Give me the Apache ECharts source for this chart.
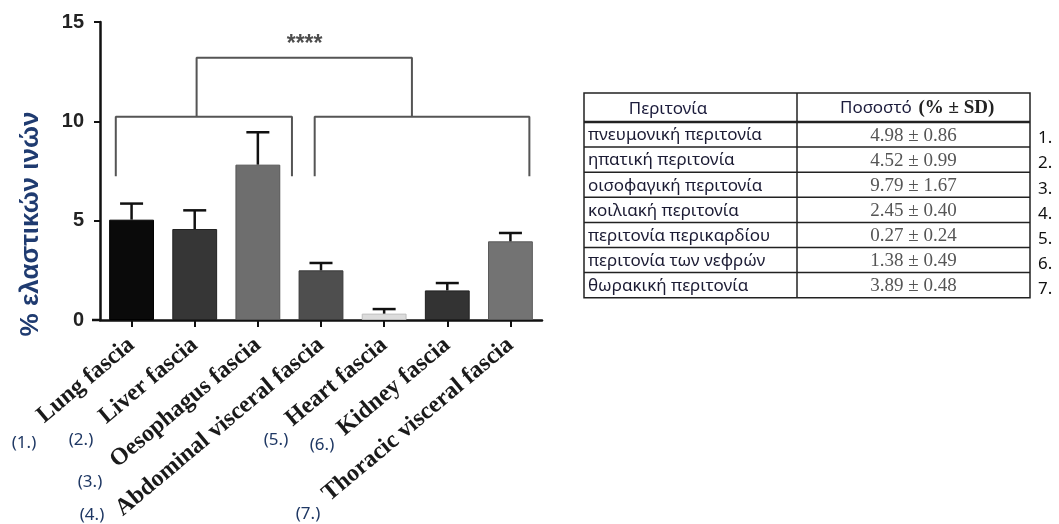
<!DOCTYPE html>
<html>
<head>
<meta charset="utf-8">
<script src="https://cdn.jsdelivr.net/npm/echarts@6/dist/echarts.min.js"></script>
<style>
html,body{margin:0;padding:0;background:#ffffff;}
#chart{width:1059px;height:524px;}
</style>
</head>
<body>
<div id="chart"></div>
<script>
// ---------- data ----------
const categories = ['Lung fascia', 'Liver fascia', 'Oesophagus fascia', 'Abdominal visceral fascia', 'Heart fascia', 'Kidney fascia', 'Thoracic visceral fascia'];
const barMeans = [5.05, 4.58, 7.82, 2.50, 0.32, 1.49, 3.96];
const barErrorTops = [5.86, 5.52, 9.45, 2.87, 0.55, 1.86, 4.38];
const yTickValues = [0, 5, 10, 15];
const yAxisTitle = '% ελαστικών ινών';
const groupMarks = ['(1.)', '(2.)', '(3.)', '(4.)', '(5.)', '(6.)', '(7.)'];
// brackets in data coordinates: [from category, to category, bar level, drop level]
const bracketFrom = [-0.25, 2.90, 1.03];
const bracketTo = [2.54, 6.30, 4.44];
const bracketLevel = [10.23, 10.23, 13.20];
const bracketDrop = [7.24, 7.24, 10.23];
const significanceLabel = '****';
const significancePos = [2.74, 13.85];
// table
const tableHeader = ['Περιτονία', 'Ποσοστό', '(% ± SD)'];
const tableNames = ['πνευμονική περιτονία', 'ηπατική περιτονία', 'οισοφαγική περιτονία', 'κοιλιακή περιτονία', 'περιτονία περικαρδίου', 'περιτονία των νεφρών', 'θωρακική περιτονία'];
const tableMeans = ['4.98', '4.52', '9.79', '2.45', '0.27', '1.38', '3.89'];
const tableSDs = ['0.86', '0.99', '1.67', '0.40', '0.24', '0.49', '0.48'];
const tableNumbers = ['1.', '2.', '3.', '4.', '5.', '6.', '7.'];

// ---------- styles / layout ----------
const barFill = ['#0a0a0a', '#363636', '#6e6e6e', '#4e4e4e', '#dcdcdc', '#333333', '#737373'];
const barEdge = ['#000000', '#222222', '#555555', '#3a3a3a', '#bdbdbd', '#202020', '#5a5a5a'];
const grid = {left: 100, right: 517, top: 22, bottom: 204};
const markPos = [[24, 443], [81, 440], [90, 482], [92, 515], [276, 440], [322, 445], [308, 514]];
const T = {x0: 584, x1: 797, x2: 1030, y0: 93, headH: 29, rowH: 25.1, numX: 1038};

const chart = echarts.init(document.getElementById('chart'), null, {renderer: 'canvas'});

const graphics = [];
graphics.push({type: 'line', shape: {x1: 92, y1: 524 - grid.bottom, x2: grid.left, y2: 524 - grid.bottom}, style: {stroke: '#111', lineWidth: 2.5}});
graphics.push({type: 'text', x: 31, y: 224, rotation: Math.PI / 2,
  style: {text: yAxisTitle, font: 'bold 26px "Liberation Sans", Arial, sans-serif', fill: '#1f3b70', align: 'center', verticalAlign: 'middle'}});
groupMarks.forEach((t, i) => {
  graphics.push({type: 'text', x: markPos[i][0], y: markPos[i][1],
    style: {text: t, font: '17px "Noto Sans", sans-serif', fill: '#1f3864', align: 'center', verticalAlign: 'middle'}});
});
const nRows = tableNames.length;
const tH = T.headH + nRows * T.rowH;
graphics.push({type: 'rect', shape: {x: T.x0, y: T.y0, width: T.x2 - T.x0, height: tH}, style: {fill: 'none', stroke: '#222', lineWidth: 1.5}});
graphics.push({type: 'line', shape: {x1: T.x1, y1: T.y0, x2: T.x1, y2: T.y0 + tH}, style: {stroke: '#222', lineWidth: 1.5}});
graphics.push({type: 'line', shape: {x1: T.x0, y1: T.y0 + T.headH, x2: T.x2, y2: T.y0 + T.headH}, style: {stroke: '#222', lineWidth: 2.5}});
for (let k = 1; k < nRows; k++) {
  const y = T.y0 + T.headH + k * T.rowH;
  graphics.push({type: 'line', shape: {x1: T.x0, y1: y, x2: T.x2, y2: y}, style: {stroke: '#222', lineWidth: 1.5}});
}
graphics.push({type: 'text', x: 668, y: T.y0 + T.headH / 2 + 2,
  style: {text: tableHeader[0], font: '17px "Noto Sans", sans-serif', fill: '#1c1c3c', align: 'center', verticalAlign: 'middle'}});
graphics.push({type: 'text', x: 840, y: T.y0 + T.headH / 2 + 1,
  style: {text: '{a|' + tableHeader[1] + '}  {b|' + tableHeader[2] + '}', verticalAlign: 'middle', align: 'left',
    rich: {a: {font: '17px "Noto Sans", sans-serif', fill: '#1c1c3c', color: '#1c1c3c'},
           b: {font: 'bold 19px "Liberation Serif", "Times New Roman", serif', fill: '#222', color: '#222'}}}});
for (let r = 0; r < nRows; r++) {
  const cy = T.y0 + T.headH + r * T.rowH + T.rowH / 2 + 1;
  graphics.push({type: 'text', x: T.x0 + 4, y: cy,
    style: {text: tableNames[r], font: '17px "Noto Sans", sans-serif', fill: '#1b1b33', align: 'left', verticalAlign: 'middle'}});
  graphics.push({type: 'text', x: (T.x1 + T.x2) / 2, y: cy,
    style: {text: tableMeans[r] + ' ± ' + tableSDs[r], font: '19px "Liberation Serif", "Times New Roman", serif', fill: '#555', align: 'center', verticalAlign: 'middle'}});
  graphics.push({type: 'text', x: T.numX, y: cy + 3,
    style: {text: tableNumbers[r], font: '17px "Noto Sans", sans-serif', fill: '#111', align: 'left', verticalAlign: 'middle'}});
}

const bracketSeries = bracketFrom.map((f, i) => ({
  type: 'line', xAxisIndex: 1, yAxisIndex: 0, symbol: 'none', silent: true, animation: false,
  lineStyle: {color: '#555', width: 2},
  data: [[f, bracketDrop[i]], [f, bracketLevel[i]], [bracketTo[i], bracketLevel[i]], [bracketTo[i], bracketDrop[i]]]
}));

const option = {
  animation: false,
  backgroundColor: '#ffffff',
  grid: grid,
  xAxis: [{
    type: 'category', data: categories, position: 'bottom',
    axisLine: {show: true, onZero: false, lineStyle: {color: '#111', width: 2.5}},
    axisTick: {show: true, alignWithLabel: true, length: 7, lineStyle: {color: '#111', width: 2}},
    axisLabel: {interval: 0, rotate: 40, margin: 22, color: '#1a1a1a',
      fontFamily: '"Liberation Serif", "Times New Roman", serif', fontWeight: 'bold', fontSize: 24},
    splitLine: {show: false}
  }, {
    type: 'value', min: -0.5, max: 6.5, show: false, gridIndex: 0, position: 'top',
    axisLine: {onZero: false}
  }],
  yAxis: [{
    type: 'value', min: 0, max: 15, interval: 5, position: 'left',
    axisLine: {show: true, onZero: false, lineStyle: {color: '#111', width: 2.5}},
    axisTick: {show: true, length: 6, lineStyle: {color: '#111', width: 2}},
    axisLabel: {margin: 16, color: '#222', fontFamily: '"Liberation Sans", Arial, sans-serif', fontWeight: 'bold', fontSize: 20,
      formatter: v => yTickValues.indexOf(v) >= 0 ? String(v) : ''},
    splitLine: {show: false}
  }],
  graphic: graphics,
  series: [{
    type: 'bar', barWidth: '71%', xAxisIndex: 0, yAxisIndex: 0,
    data: barMeans.map((v, i) => ({value: v, itemStyle: {color: barFill[i], borderColor: barEdge[i], borderWidth: 1}}))
  }, {
    type: 'custom', xAxisIndex: 0, yAxisIndex: 0, silent: true, z: 3,
    dimensions: ['cat', 'mean', 'top'],
    encode: {x: 'cat', y: ['mean', 'top']},
    data: categories.map((c, i) => [c, barMeans[i], barErrorTops[i]]),
    renderItem: function (params, api) {
      const xi = params.dataIndex;
      const p0 = api.coord([xi, api.value('mean')]);
      const p1 = api.coord([xi, api.value('top')]);
      const s = {stroke: '#111', lineWidth: 2.5};
      return {type: 'group', children: [
        {type: 'line', shape: {x1: p0[0], y1: p0[1], x2: p1[0], y2: p1[1]}, style: s},
        {type: 'line', shape: {x1: p1[0] - 11.5, y1: p1[1], x2: p1[0] + 11.5, y2: p1[1]}, style: s}
      ]};
    }
  }].concat(bracketSeries).concat([{
    type: 'scatter', xAxisIndex: 1, yAxisIndex: 0, symbolSize: 1, silent: true,
    itemStyle: {color: 'rgba(0,0,0,0)'},
    data: [significancePos],
    label: {show: true, position: 'inside', formatter: significanceLabel, color: '#222',
      fontFamily: '"Liberation Sans", Arial, sans-serif', fontWeight: 'bold', fontSize: 23}
  }])
};
chart.setOption(option);
</script>
</body>
</html>
